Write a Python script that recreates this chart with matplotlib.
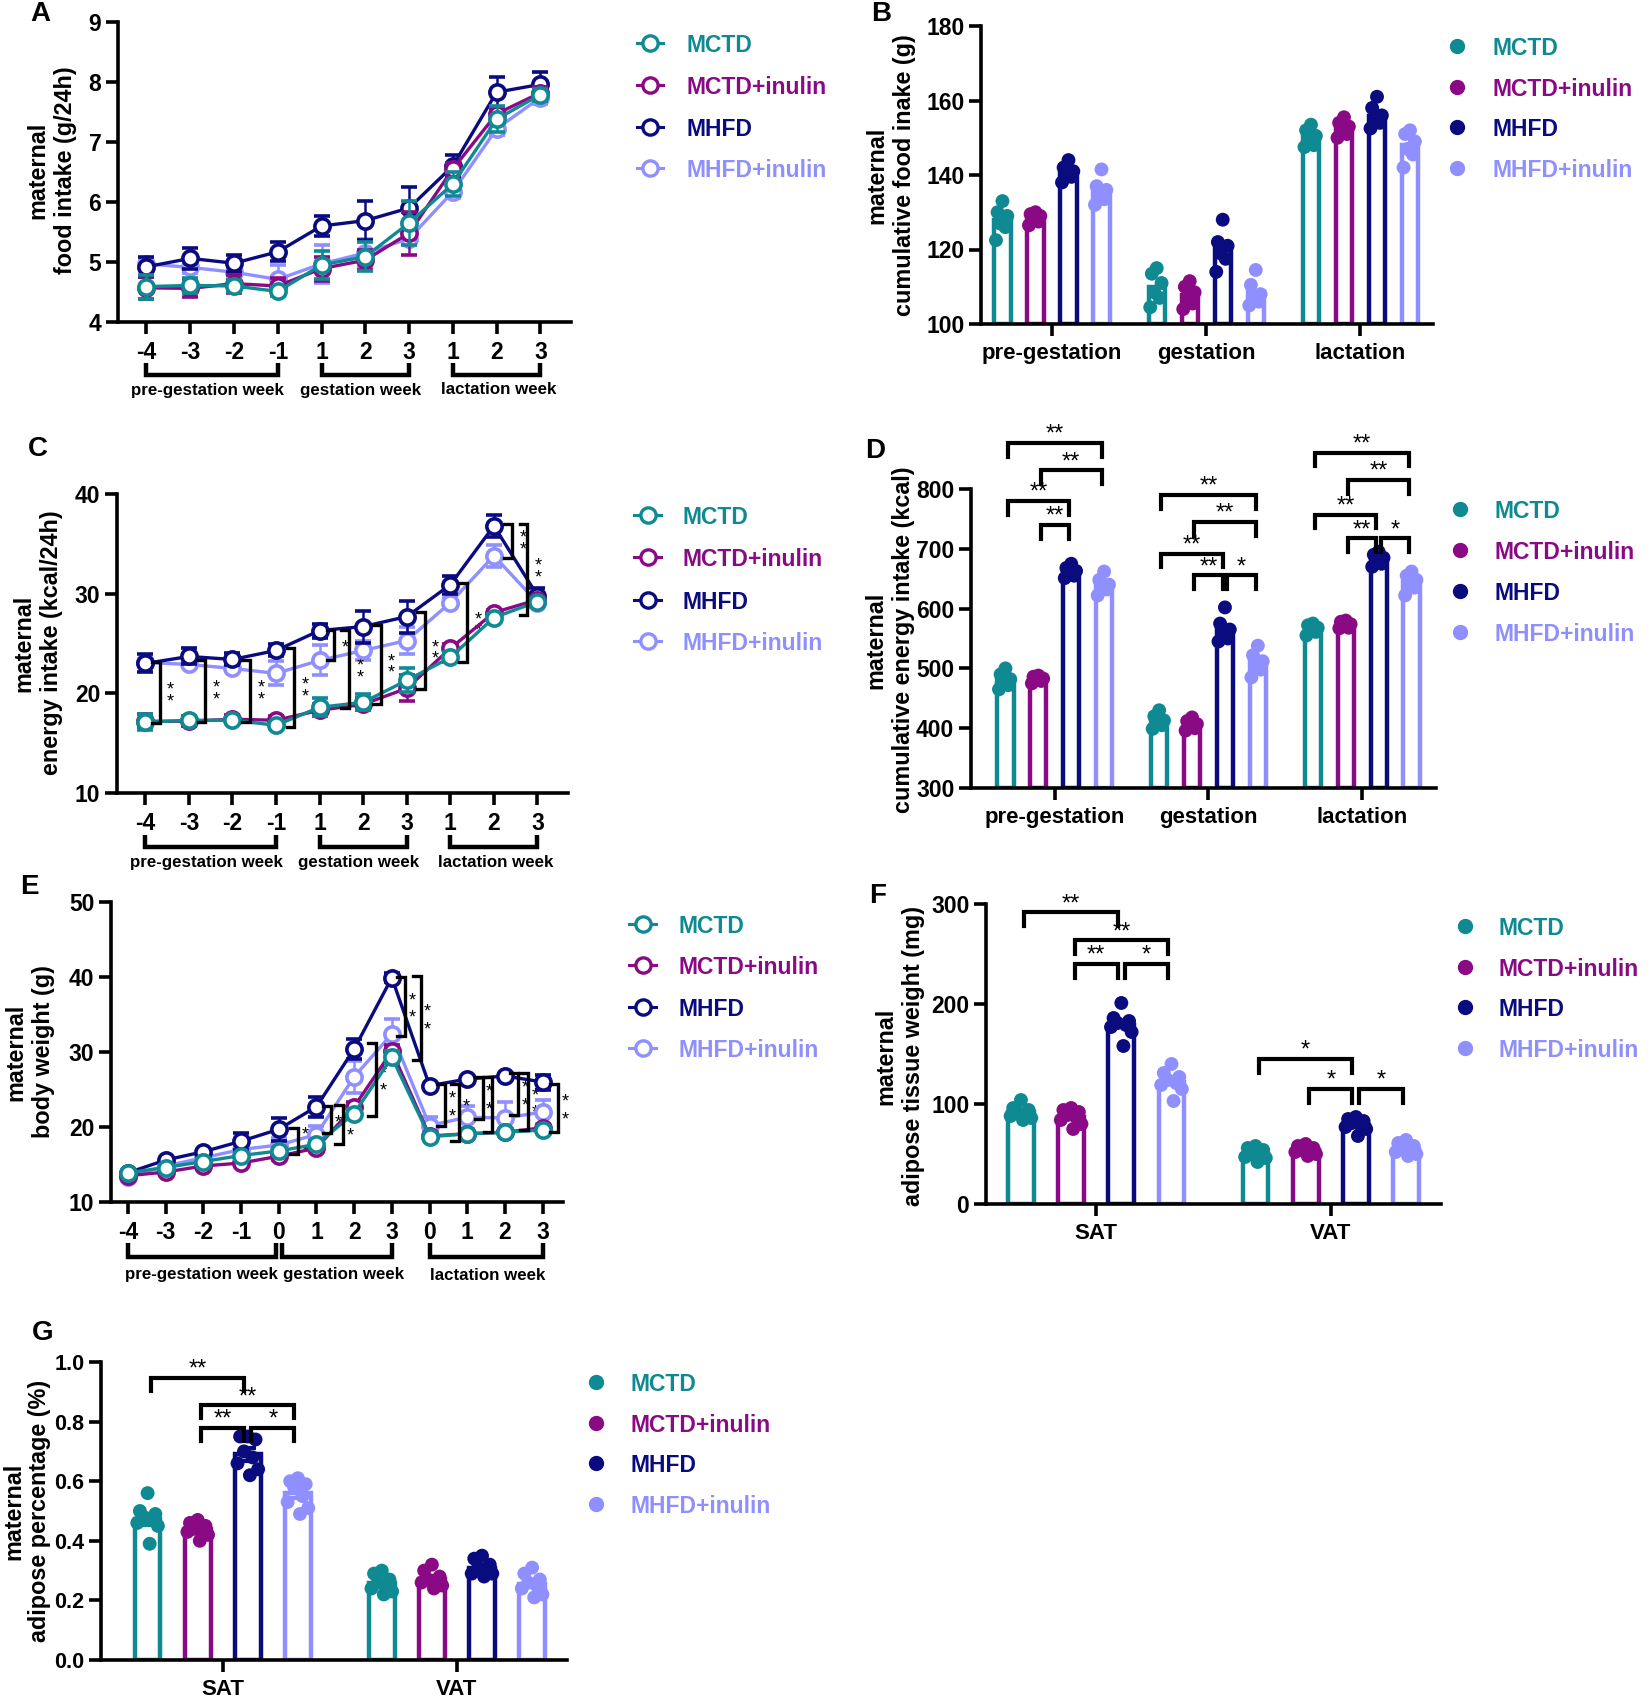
import numpy as np
import matplotlib
matplotlib.use('Agg')
import matplotlib.pyplot as plt
from matplotlib.lines import Line2D
from matplotlib.transforms import blended_transform_factory
from matplotlib import font_manager

plt.rcParams['font.family'] = ['Liberation Sans', 'DejaVu Sans']
plt.rcParams['font.weight'] = 'bold'

W, H = 1648, 1700

# ---------------- data ----------------
group_names = ['MCTD', 'MCTD+inulin', 'MHFD', 'MHFD+inulin']
colors = ['#0f8a93', '#8a0a85', '#0b0b80', '#8f8fff']

# Panel A: maternal food intake (g/24h)
weeks_AC = ['-4', '-3', '-2', '-1', '1', '2', '3', '1', '2', '3']
periods = ['pre-gestation week', 'gestation week', 'lactation week']
food_MCTD = [4.59, 4.61, 4.60, 4.51, 4.95, 5.09, 5.65, 6.30, 7.38, 7.79]
food_MCTD_err = [0.20, 0.13, 0.10, 0.08, 0.23, 0.24, 0.37, 0.20, 0.22, 0.10]
food_MCTDi = [4.57, 4.56, 4.64, 4.60, 4.89, 5.03, 5.48, 6.55, 7.47, 7.82]
food_MCTDi_err = [0.18, 0.15, 0.15, 0.13, 0.20, 0.17, 0.36, 0.10, 0.10, 0.10]
food_MHFD = [4.92, 5.06, 4.98, 5.17, 5.60, 5.69, 5.90, 6.60, 7.83, 7.96]
food_MHFD_err = [0.17, 0.18, 0.14, 0.16, 0.16, 0.33, 0.35, 0.18, 0.25, 0.20]
food_MHFDi = [4.97, 4.91, 4.83, 4.71, 4.97, 5.15, 5.39, 6.17, 7.22, 7.74]
food_MHFDi_err = [0.10, 0.10, 0.10, 0.24, 0.32, 0.23, 0.10, 0.10, 0.10, 0.10]

# Panel C: maternal energy intake (kcal/24h)
energy_MCTD = [17.1, 17.3, 17.3, 16.8, 18.6, 19.1, 21.3, 23.6, 27.6, 29.2]
energy_MCTD_err = [0.8, 0.4, 0.3, 0.3, 0.9, 0.8, 1.2, 0.5, 0.4, 0.3]
energy_MCTDi = [17.2, 17.2, 17.4, 17.3, 18.3, 18.9, 20.5, 24.5, 28.1, 29.4]
energy_MCTDi_err = [0.7, 0.5, 0.4, 0.4, 0.6, 0.6, 1.3, 0.4, 0.3, 0.3]
energy_MHFD = [23.0, 23.7, 23.4, 24.3, 26.3, 26.7, 27.7, 30.9, 36.8, 29.8]
energy_MHFD_err = [0.9, 0.8, 0.6, 0.6, 0.7, 1.6, 1.6, 0.9, 1.1, 0.8]
energy_MHFDi = [23.1, 22.9, 22.5, 22.0, 23.3, 24.3, 25.3, 29.1, 33.8, 29.1]
energy_MHFDi_err = [0.3, 0.3, 0.3, 1.2, 1.5, 1.0, 1.4, 0.5, 1.1, 0.4]
# significance brackets C: (x position, top value, bottom value, label)
sig_C = [(0.33, 23.1, 17.0, '**'), (1.37, 23.3, 17.1, '**'), (2.40, 23.3, 17.1, '**'),
         (3.41, 24.5, 16.6, '**'), (4.34, 26.4, 23.3, '*'), (4.67, 26.4, 18.5, '**'),
         (5.40, 26.9, 18.9, '**'), (6.41, 28.2, 20.4, '**'), (7.38, 31.1, 23.1, '**'),
         (8.41, 37.0, 33.6, '**'), (8.77, 37.0, 27.9, '**')]

# Panel E: maternal body weight (g)
weeks_E = ['-4', '-3', '-2', '-1', '0', '1', '2', '3', '0', '1', '2', '3']
bw_MCTD = [13.9, 14.6, 15.4, 16.2, 16.8, 17.7, 21.8, 29.3, 18.7, 19.1, 19.3, 19.6]
bw_MCTD_err = [0.3, 0.3, 0.3, 0.3, 0.4, 0.4, 0.6, 0.8, 0.3, 0.3, 0.3, 0.3]
bw_MCTDi = [13.5, 14.0, 14.8, 15.2, 16.1, 17.2, 22.7, 30.1, 18.8, 19.1, 19.3, 19.9]
bw_MCTDi_err = [0.3, 0.3, 0.3, 0.3, 0.5, 0.4, 0.6, 0.8, 0.3, 0.3, 0.3, 0.3]
bw_MHFD = [13.9, 15.6, 16.7, 18.1, 19.7, 22.7, 30.4, 39.9, 25.5, 26.4, 26.8, 26.0]
bw_MHFD_err = [0.3, 0.3, 0.3, 1.1, 1.5, 1.3, 1.3, 0.6, 0.3, 0.3, 0.3, 1.0]
bw_MHFDi = [13.4, 14.8, 15.9, 17.0, 17.6, 19.0, 26.7, 32.4, 20.2, 21.3, 21.2, 22.0]
bw_MHFDi_err = [0.3, 0.3, 0.3, 0.3, 0.9, 1.1, 2.1, 2.0, 1.2, 1.5, 2.2, 1.6]
sig_E = [(4.51, 19.9, 16.4, '**'), (5.38, 22.8, 19.2, '*'), (5.71, 23.0, 17.8, '**'),
         (6.58, 31.2, 21.5, '**'), (7.35, 40.0, 32.1, '**'), (7.76, 40.1, 28.9, '**'),
         (8.41, 25.7, 20.1, '**'), (8.78, 25.7, 18.1, '**'), (9.41, 26.7, 21.1, '**'),
         (9.65, 26.7, 19.3, ''), (10.34, 27.2, 21.6, '**'), (10.61, 27.2, 19.6, '**'),
         (11.41, 25.7, 19.3, '**')]

# Panel B: cumulative food intake (g)
periods_B = ['pre-gestation', 'gestation', 'lactation']
cumfood_mean = {
    'MCTD': [127.8, 109.8, 150.1],
    'MCTD+inulin': [128.3, 107.9, 152.6],
    'MHFD': [140.6, 120.1, 155.9],
    'MHFD+inulin': [135.7, 108.5, 148.1],
}
cumfood_pts = {
    'MCTD': [[133, 130, 129, 127, 126, 122.5], [115, 113.5, 111, 108.5, 107, 104.5], [153.5, 152, 150.5, 149, 148, 147.5]],
    'MCTD+inulin': [[130, 129.5, 129, 128, 127.5, 126.5], [111.5, 110, 108.5, 107, 105.5, 104], [155.5, 154, 153, 152, 151, 150]],
    'MHFD': [[144, 142, 141, 140.5, 139.5, 138], [128, 122, 121, 119, 117.5, 114], [161, 158, 156, 155, 154, 152.5]],
    'MHFD+inulin': [[141.5, 137, 136, 134.5, 133.5, 132], [114.5, 110.5, 108, 107, 106, 105], [152, 151, 149, 147, 145.5, 142]],
}

# Panel D: cumulative energy intake (kcal)
cumenergy_mean = {
    'MCTD': [481, 412, 566],
    'MCTD+inulin': [482, 406, 573],
    'MHFD': [662, 566, 682],
    'MHFD+inulin': [640, 510, 644],
}
cumenergy_pts = {
    'MCTD': [[500, 490, 482, 478, 472, 465], [430, 420, 413, 408, 405, 399], [575, 572, 568, 565, 561, 555]],
    'MCTD+inulin': [[488, 486, 483, 481, 479, 475], [418, 412, 407, 403, 400, 396], [580, 578, 574, 571, 568, 567]],
    'MHFD': [[675, 668, 663, 660, 655, 651], [602, 575, 565, 558, 550, 545], [695, 690, 685, 680, 675, 670]],
    'MHFD+inulin': [[662, 648, 640, 636, 632, 622], [538, 522, 512, 505, 498, 485], [662, 655, 648, 642, 635, 622]],
}
# (period, group i, group j, bracket value, label)
sig_D = [(0, 0, 3, 877, '**'), (0, 1, 3, 831, '**'), (0, 0, 2, 780, '**'), (0, 1, 2, 740, '**'),
         (1, 0, 3, 790, '**'), (1, 1, 3, 745, '**'), (1, 0, 2, 692, '**'), (1, 1, 2, 656, '**'), (1, 2, 3, 656, '*'),
         (2, 0, 3, 861, '**'), (2, 1, 3, 815, '**'), (2, 0, 2, 757, '**'), (2, 1, 2, 718, '**'), (2, 2, 3, 718, '*')]

# Panel F: adipose tissue weight (mg)
depots = ['SAT', 'VAT']
adipose_mean = {
    'MCTD': [91.7, 50.3],
    'MCTD+inulin': [87.0, 53.7],
    'MHFD': [179.3, 79.3],
    'MHFD+inulin': [122.3, 55.0],
}
adipose_pts = {
    'MCTD': [[104, 96, 94, 92, 90, 88, 86, 84], [58, 56, 54, 51, 49, 47, 46, 42]],
    'MCTD+inulin': [[96, 94, 92, 89, 87, 84, 80, 75], [60, 58, 56, 54, 53, 52, 50, 48]],
    'MHFD': [[201, 186, 183, 181, 179, 177, 172, 158], [87, 85, 83, 81, 79, 77, 75, 68]],
    'MHFD+inulin': [[140, 131, 127, 124, 121, 119, 115, 103], [64, 61, 58, 56, 54, 52, 50, 48]],
}
sig_F = [(0, 0, 2, 291.7, '**'), (0, 1, 3, 263.7, '**'), (0, 1, 2, 240, '**'), (0, 2, 3, 240, '*'),
         (1, 0, 2, 145, '*'), (1, 1, 2, 115.3, '*'), (1, 2, 3, 115.3, '*')]

# Panel G: adipose percentage (%)
adpct_mean = {
    'MCTD': [0.4715, 0.257],
    'MCTD+inulin': [0.438, 0.2715],
    'MHFD': [0.690, 0.3095],
    'MHFD+inulin': [0.559, 0.2536],
}
adpct_err = {
    'MCTD': [0.018, 0.010],
    'MCTD+inulin': [0.009, 0.010],
    'MHFD': [0.022, 0.009],
    'MHFD+inulin': [0.016, 0.010],
}
adpct_pts = {
    'MCTD': [[0.56, 0.50, 0.49, 0.48, 0.47, 0.46, 0.45, 0.39], [0.30, 0.29, 0.27, 0.26, 0.25, 0.24, 0.23, 0.22]],
    'MCTD+inulin': [[0.47, 0.46, 0.45, 0.44, 0.43, 0.43, 0.42, 0.40], [0.32, 0.30, 0.28, 0.27, 0.26, 0.26, 0.25, 0.24]],
    'MHFD': [[0.75, 0.75, 0.74, 0.70, 0.68, 0.66, 0.64, 0.62], [0.35, 0.34, 0.32, 0.31, 0.30, 0.29, 0.29, 0.28]],
    'MHFD+inulin': [[0.61, 0.60, 0.59, 0.58, 0.55, 0.53, 0.51, 0.49], [0.31, 0.29, 0.27, 0.26, 0.25, 0.24, 0.22, 0.21]],
}
sig_G = [(0, 0, 2, 0.947, '**'), (0, 1, 3, 0.855, '**'), (0, 1, 2, 0.78, '**'), (0, 2, 3, 0.78, '*')]

# ---------------- styling helpers ----------------
_names = {f.name for f in font_manager.fontManager.ttflist}
if 'Liberation Sans Narrow' in _names:
    LEGFAM = ['Liberation Sans Narrow', 'Liberation Sans', 'DejaVu Sans']
    LEGFS = 20.5
else:
    LEGFAM = ['Liberation Sans', 'DejaVu Sans']
    LEGFS = 16.5

fig = plt.figure(figsize=(W / 100, H / 100), dpi=100)
SPW = 2.6
TICKFS = 16.5
YLABFS = 16.8


def add_ax(l, r, t, b, tfs=TICKFS):
    ax = fig.add_axes([l / W, 1 - b / H, (r - l) / W, (b - t) / H])
    for s in ['top', 'right']:
        ax.spines[s].set_visible(False)
    for s in ['left', 'bottom']:
        ax.spines[s].set_linewidth(SPW)
    ax.tick_params(width=SPW, length=9, labelsize=tfs, pad=3)
    ax.tick_params(axis='x', length=8.5, pad=5)
    return ax


def fx(x):
    return x / W


def fy(y):
    return 1 - y / H


def panel_letter(s, x, y):
    fig.text(fx(x), fy(y), s, fontsize=20, fontweight='bold', ha='center', va='center')


def ylabel(text, x, y, ls=1.25):
    fig.text(fx(x), fy(y), text, fontsize=YLABFS, fontweight='bold', rotation=90,
             ha='center', va='center', multialignment='center', linespacing=ls)


def line_legend(x1, x2, xt, ys):
    for k, name in enumerate(group_names):
        c = colors[k]
        fig.add_artist(Line2D([fx(x1), fx(x2)], [fy(ys[k])] * 2, transform=fig.transFigure,
                              color=c, lw=2.2))
        fig.add_artist(Line2D([fx((x1 + x2) / 2)], [fy(ys[k])], transform=fig.transFigure,
                              marker='o', ms=11, mfc='white', mec=c, mew=2.4, lw=0))
        fig.text(fx(xt), fy(ys[k]), name, color=c, fontsize=LEGFS, fontweight='bold',
                 family=LEGFAM, ha='left', va='center_baseline')


def dot_legend(xm, xt, ys):
    for k, name in enumerate(group_names):
        c = colors[k]
        fig.add_artist(Line2D([fx(xm)], [fy(ys[k])], transform=fig.transFigure,
                              marker='o', ms=10, mfc=c, mec=c, lw=0))
        fig.text(fx(xt), fy(ys[k]), name, color=c, fontsize=LEGFS, fontweight='bold',
                 family=LEGFAM, ha='left', va='center_baseline')


def line_panel(ax, series, errs, xlabels, ylim, yticks, xlim, ax_h, group_ranges, group_lab_x,
               offs):
    x = np.arange(len(xlabels))
    order = [3, 2, 1, 0]
    for k in order:
        c = colors[k]
        ax.errorbar(x, series[k], yerr=errs[k], color=c, lw=2.4, marker='o', ms=11,
                    mfc='white', mec=c, mew=2.6, capsize=6, elinewidth=1.8, capthick=1.8,
                    zorder=3 + (3 - k), clip_on=False)
    ax.set_xlim(*xlim)
    ax.set_ylim(*ylim)
    ax.set_yticks(yticks)
    ax.set_xticks(x)
    ax.set_xticklabels(xlabels)
    tr = blended_transform_factory(ax.transData, ax.transAxes)
    yb = -offs[0] / ax_h
    ye = -offs[1] / ax_h
    yl = -offs[2] / ax_h
    for (a, b), lx, lab in zip(group_ranges, group_lab_x, periods):
        ax.plot([a, a, b, b], [ye, yb, yb, ye], color='black', lw=3.2, transform=tr,
                clip_on=False, solid_joinstyle='miter', solid_capstyle='butt')
        ax.text(lx, yl, lab, transform=tr, ha='center', va='center', fontsize=12.2,
                fontweight='bold')


def vbrackets(ax, sig, tail, star_dx, gap_px, fs):
    line_h = fs * 100 / 72 * 1.117
    for xb, top, bot, lab in sig:
        ax.plot([xb - tail, xb, xb, xb - tail], [top, top, bot, bot], color='black', lw=2.4,
                clip_on=False, zorder=10, solid_joinstyle='miter')
        mid = (top + bot) / 2
        if not lab:
            continue
        txt = '\n'.join(lab)
        ax.annotate(txt, (xb, mid), xytext=(star_dx, -3), textcoords='offset pixels',
                    ha='center', va='center', fontsize=fs, fontweight='normal',
                    linespacing=gap_px / line_h, annotation_clip=False)


SPACING = 0.214
JIT = np.array([0.0, -0.3, 0.3, -0.15, 0.18, -0.4, 0.4, 0.08])


def bar_panel(ax, means, pts, base, bw, ylim, yticks, xlabels, xlim, errs=None):
    offs = (np.arange(4) - 1.5) * SPACING
    ng = len(xlabels)
    for k, name in enumerate(group_names):
        c = colors[k]
        xs = np.arange(ng) + offs[k]
        hts = np.array(means[name]) - base
        ax.bar(xs, hts, bottom=base, width=bw, facecolor='white', edgecolor=c, lw=3.2,
               zorder=2)
        if errs is not None:
            ax.errorbar(xs, means[name], yerr=errs[name], fmt='none', ecolor=c, elinewidth=3,
                        capsize=6, capthick=3, zorder=2)
        for g in range(ng):
            p = np.array(pts[name][g])
            jx = xs[g] + JIT[:len(p)] * bw
            ax.scatter(jx, p, s=100, color=c, edgecolors='none', zorder=4, clip_on=False)
    ax.set_xlim(*xlim)
    ax.set_ylim(*ylim)
    ax.set_yticks(yticks)
    ax.set_xticks(np.arange(ng))
    ax.set_xticklabels(xlabels, fontsize=16)
    return offs


def hbrackets(ax, sig, offs, drop, text_off, fs=17, shrink=0.015):
    for g, i, j, yv, lab in sig:
        x1 = g + offs[i] + shrink
        x2 = g + offs[j] - shrink
        ax.plot([x1, x1, x2, x2], [yv - drop, yv, yv, yv - drop], color='black', lw=3,
                clip_on=False, zorder=10, solid_joinstyle='miter')
        ax.annotate(lab, ((x1 + x2) / 2, yv), xytext=(0, text_off), textcoords='offset pixels',
                    ha='center', va='baseline', fontsize=fs, fontweight='normal',
                    annotation_clip=False)


# ---------------- Panel A ----------------
axA = add_ax(118, 571, 22, 322)
line_panel(axA, [food_MCTD, food_MCTDi, food_MHFD, food_MHFDi],
           [food_MCTD_err, food_MCTDi_err, food_MHFD_err, food_MHFDi_err],
           weeks_AC, (4, 9), np.arange(4, 10, 1), (-0.65, 9.7), 300,
           [(0, 3), (4, 6), (7, 9)], [1.4, 4.9, 8.05], (53, 41, 68))
panel_letter('A', 40, 14)
ylabel('maternal\nfood intake (g/24h)', 52, 170)
line_legend(637, 663, 686, [43, 85, 127, 168])

# ---------------- Panel B ----------------
axB = add_ax(981, 1433, 26, 324)
bar_panel(axB, cumfood_mean, cumfood_pts, 100, 0.105, (100, 180), np.arange(100, 181, 20),
          periods_B, (-0.46, 2.47))
panel_letter('B', 881, 14)
ylabel('maternal\ncumulative food inake (g)', 891, 175)
dot_legend(1457, 1492, [46, 87, 127, 168])

# ---------------- Panel C ----------------
axC = add_ax(117, 568, 494, 793)
line_panel(axC, [energy_MCTD, energy_MCTDi, energy_MHFD, energy_MHFDi],
           [energy_MCTD_err, energy_MCTDi_err, energy_MHFD_err, energy_MHFDi_err],
           weeks_AC, (10, 40), [10, 20, 30, 40], (-0.65, 9.7), 299,
           [(0, 3), (4, 6), (7, 9)], [1.4, 4.9, 8.05], (54, 42, 69))
vbrackets(axC, sig_C, 0.17, 11, 12, 13)
panel_letter('C', 38, 449)
ylabel('maternal\nenergy intake (kcal/24h)', 38, 643)
line_legend(634, 661, 683, [515, 557, 600, 641])

# ---------------- Panel D ----------------
axD = add_ax(971, 1436, 489, 788)
offsD = bar_panel(axD, cumenergy_mean, cumenergy_pts, 300, 0.105, (300, 800),
                  np.arange(300, 801, 100), periods_B, (-0.545, 2.48))
hbrackets(axD, sig_D, offsD, 23, 2)
panel_letter('D', 875, 451)
ylabel('maternal\ncumulative energy intake (kcal)', 890, 640)
dot_legend(1460, 1494, [509, 550, 591, 632])

# ---------------- Panel E ----------------
axE = add_ax(111, 563, 902, 1202)
line_panel(axE, [bw_MCTD, bw_MCTDi, bw_MHFD, bw_MHFDi],
           [bw_MCTD_err, bw_MCTDi_err, bw_MHFD_err, bw_MHFDi_err],
           weeks_E, (10, 50), [10, 20, 30, 40, 50], (-0.45, 11.54), 300,
           [(0, 3.92), (4.08, 7), (8, 11)], [1.96, 5.72, 9.55], (55, 41, 73))
vbrackets(axE, sig_E, 0.21, 7, 21, 13)
panel_letter('E', 29, 887)
ylabel('maternal\nbody weight (g)', 30, 1052)
line_legend(629, 656, 678, [924, 965, 1007, 1048])

# ---------------- Panel F ----------------
axF = add_ax(986, 1441, 904, 1204)
offsF = bar_panel(axF, adipose_mean, adipose_pts, 0, 0.11, (0, 300), [0, 100, 200, 300],
                  depots, (-0.47, 1.47))
hbrackets(axF, sig_F, offsF, 14, 2)
panel_letter('F', 878, 896)
ylabel('maternal\nadipose tissue weight (mg)', 900, 1056)
dot_legend(1465, 1499, [926, 967, 1007, 1048])

# ---------------- Panel G ----------------
axG = add_ax(101, 567, 1362, 1660, tfs=15.5)
offsG = bar_panel(axG, adpct_mean, adpct_pts, 0, 0.11, (0, 1.0), np.arange(0, 1.01, 0.2),
                  depots, (-0.52, 1.47), errs=adpct_err)
axG.set_yticklabels(['%.1f' % v for v in np.arange(0, 1.01, 0.2)])
hbrackets(axG, sig_G, offsG, 0.044, 2)
panel_letter('G', 43, 1333)
ylabel('maternal\nadipose percentage (%)', 27, 1511, ls=1.15)
dot_legend(596, 631, [1382, 1423, 1463, 1504])

fig.savefig('out.png', dpi=100, facecolor='white')
